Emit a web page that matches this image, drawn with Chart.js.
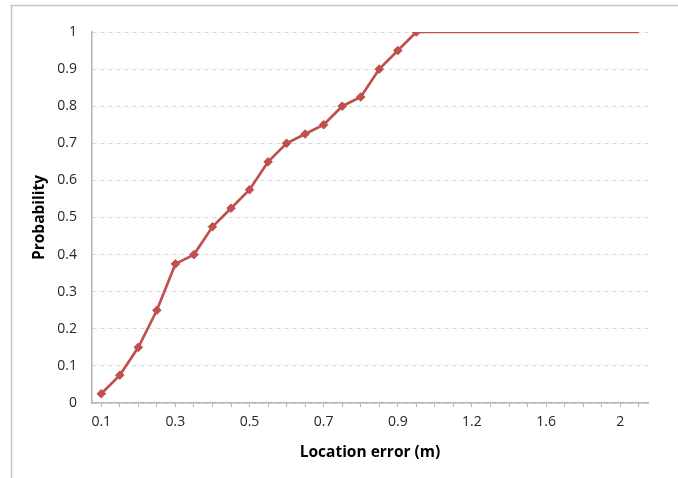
<!DOCTYPE html>
<html>
<head>
<meta charset="utf-8">
<script src="https://cdn.jsdelivr.net/npm/chart.js@4/dist/chart.umd.min.js"></script>
<style>
  html, body { margin: 0; padding: 0; background: #fff; }
  #wrap { width: 678px; height: 478px; }
</style>
</head>
<body>
<div id="wrap"><canvas id="cdf" width="678" height="478"></canvas></div>
<script>
// location error categories (m) and cumulative probability
const errors = ['0.1','0.15','0.2','0.25','0.3','0.35','0.4','0.45','0.5','0.55','0.6','0.65','0.7','0.75','0.8','0.85','0.9','0.95','1','1.1','1.2','1.3','1.4','1.5','1.6','1.7','1.8','1.9','2','2.1'];
const probability = [0.025,0.075,0.15,0.25,0.375,0.4,0.475,0.525,0.575,0.65,0.7,0.725,0.75,0.8,0.825,0.9,0.95,1,1,1,1,1,1,1,1,1,1,1,1,1];
const markedPoints = 18; // markers only up to where it reaches 1
const yTicks = ['0','0.1','0.2','0.3','0.4','0.5','0.6','0.7','0.8','0.9','1'];

const red = '#C0504D';
const axisGrey = '#b3b3b3';

// outer frame of the excel chart area (left + top visible)
const frame = {
  id: 'frame',
  beforeDraw(chart) {
    const ctx = chart.ctx;
    ctx.save();
    ctx.strokeStyle = '#c4c4c4';
    ctx.lineWidth = 1.5;
    ctx.beginPath();
    ctx.moveTo(11.5, 478);
    ctx.lineTo(11.5, 5.5);
    ctx.lineTo(678, 5.5);
    ctx.stroke();
    ctx.restore();
  }
};

new Chart(document.getElementById('cdf').getContext('2d'), {
  type: 'line',
  data: {
    labels: errors,
    datasets: [{
      label: 'Probability',
      data: probability,
      borderColor: red,
      backgroundColor: red,
      borderWidth: 2.7,
      tension: 0,
      pointStyle: 'rectRot',
      pointRadius: probability.map((v, i) => i < markedPoints ? 4.3 : 0),
      pointBackgroundColor: red,
      pointBorderColor: red,
      pointBorderWidth: 1
    }]
  },
  options: {
    responsive: false,
    animation: false,
    devicePixelRatio: 1,
    layout: { padding: { left: 0, top: 32, right: 30, bottom: 0 } },
    plugins: {
      legend: { display: false },
      tooltip: { enabled: false }
    },
    scales: {
      x: {
        type: 'category',
        offset: true,
        grid: {
          offset: false,
          drawOnChartArea: false,
          drawTicks: true,
          tickLength: 4,
          color: axisGrey
        },
        border: { display: true, color: axisGrey, width: 1.5 },
        ticks: {
          autoSkip: false,
          maxRotation: 0,
          padding: 7,
          color: '#262626',
          font: { family: 'Open Sans', size: 14 },
          callback: function (val, i) { return i % 4 === 0 ? errors[i] : ''; }
        },
        title: {
          display: true,
          text: 'Location error (m)',
          color: '#000',
          font: { family: 'Open Sans', size: 15.5, weight: 'bold' },
          padding: { top: 0, bottom: 16 }
        },
        afterFit(scale) { scale.height = 75; }
      },
      y: {
        min: 0,
        max: 1,
        ticks: {
          stepSize: 0.1,
          padding: 15,
          color: '#262626',
          font: { family: 'Open Sans', size: 14 },
          callback: function (val, i) { return yTicks[i]; }
        },
        grid: {
          drawTicks: false,
          color: '#d9d9d9',
          lineWidth: 1
        },
        border: { display: true, color: axisGrey, width: 1.5, dash: [4, 4] },
        title: {
          display: true,
          text: 'Probability',
          color: '#000',
          font: { family: 'Open Sans', size: 15.5, weight: 'bold' },
          padding: { top: 30, bottom: 0 }
        },
        afterFit(scale) { scale.width = 92; }
      }
    }
  },
  plugins: [frame]
});
</script>
</body>
</html>
